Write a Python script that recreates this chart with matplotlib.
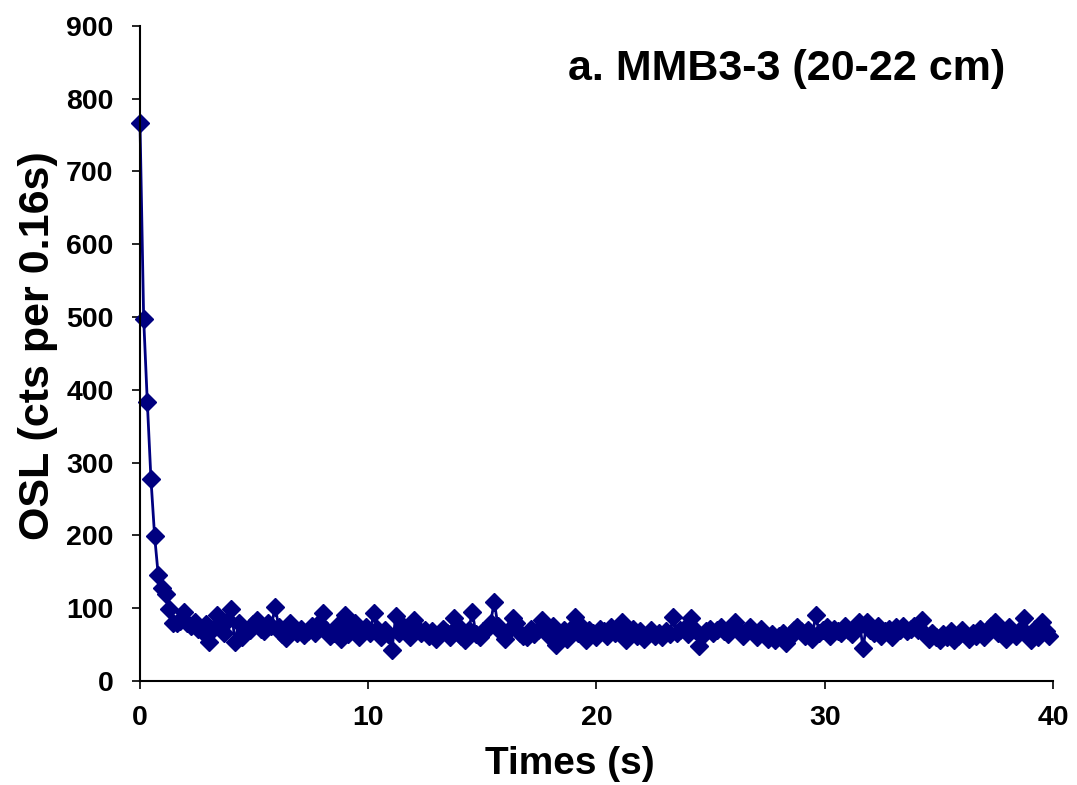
import numpy as np
import matplotlib
matplotlib.use("Agg")
import matplotlib.pyplot as plt

title = "a. MMB3-3 (20-22 cm)"
x_label = "Times (s)"
y_label = "OSL (cts per 0.16s)"
dt = 0.16
osl_counts = [
    766, 498, 383, 277, 199, 145, 128, 120, 99, 80,
    80, 82, 95, 80, 76, 81, 72, 68, 78, 54,
    72, 90, 74, 66, 84, 99, 54, 79, 60, 67,
    70, 78, 84, 72, 68, 80, 76, 102, 74, 64,
    59, 79, 70, 66, 72, 63, 68, 75, 66, 80,
    93, 70, 62, 66, 75, 58, 91, 64, 72, 80,
    60, 68, 74, 66, 93, 72, 60, 70, 64, 43,
    89, 66, 76, 70, 60, 84, 72, 66, 70, 62,
    68, 58, 64, 72, 66, 60, 86, 76, 62, 56,
    70, 95, 64, 60, 68, 72, 80, 109, 76, 66,
    58, 70, 86, 80, 66, 62, 60, 72, 64, 70,
    84, 70, 62, 76, 49, 64, 70, 58, 72, 88,
    66, 74, 56, 70, 66, 60, 72, 68, 62, 74,
    66, 70, 81, 56, 64, 72, 62, 68, 58, 64,
    70, 62, 66, 60, 68, 64, 88, 66, 70, 72,
    64, 86, 70, 48, 62, 68, 72, 66, 70, 74,
    68, 64, 72, 81, 70, 62, 68, 74, 66, 60,
    72, 66, 58, 64, 56, 62, 66, 52, 60, 70,
    74, 68, 62, 70, 58, 91, 66, 70, 74, 62,
    72, 68, 66, 76, 70, 64, 72, 81, 45, 81,
    70, 66, 76, 62, 68, 72, 60, 74, 70, 76,
    68, 72, 76, 70, 84, 64, 58, 66, 60, 56,
    64, 60, 68, 56, 62, 70, 64, 58, 66, 62,
    72, 60, 68, 76, 81, 66, 70, 58, 74, 66,
    62, 70, 86, 64, 56, 72, 60, 81, 68, 62,
]
x_ticks = [0, 10, 20, 30, 40]
y_ticks = [0, 100, 200, 300, 400, 500, 600, 700, 800, 900]

plt.rcParams['font.family'] = ['Liberation Sans', 'DejaVu Sans']
plt.rcParams['font.weight'] = 'bold'

times = np.arange(len(osl_counts)) * dt

fig = plt.figure(figsize=(10.77, 7.85), dpi=100)
ax = fig.add_axes([0.130, 0.1325, 0.8477, 0.8345])
ax.plot(times, osl_counts, color='#000080', lw=2.0, marker='D',
        markersize=9, markerfacecolor='#000080', markeredgecolor='#000080',
        clip_on=False)

ax.set_xlim(0, 40)
ax.set_ylim(0, 900)
ax.set_xticks(x_ticks)
ax.set_yticks(y_ticks)
for s in ['top', 'right']:
    ax.spines[s].set_visible(False)
for s in ['left', 'bottom']:
    ax.spines[s].set_linewidth(1.5)
ax.tick_params(axis='both', direction='out', length=6, width=1.2,
               labelsize=20.5)
ax.tick_params(axis='y', pad=13)
ax.tick_params(axis='x', pad=11)
for lab in ax.get_xticklabels() + ax.get_yticklabels():
    lab.set_fontweight('bold')

fig.text(0.529, 0.014, x_label, ha='center', va='baseline',
         fontsize=28, fontweight='bold')
fig.text(0.035, 0.56, y_label, ha='center', va='center', rotation=90,
         fontsize=31, fontweight='bold')
fig.text(0.730, 0.912, title, ha='center', va='center',
         fontsize=31, fontweight='bold')

fig.savefig('out.png', dpi=100)
